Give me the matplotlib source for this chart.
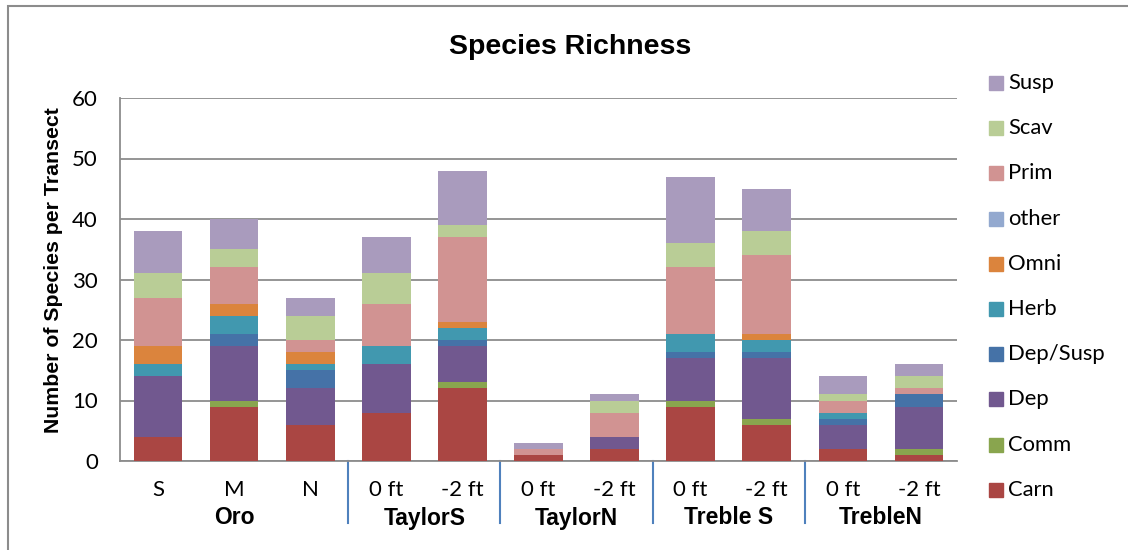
import numpy as np
import matplotlib
matplotlib.use("Agg")
import matplotlib.pyplot as plt
from matplotlib.patches import Rectangle

# transects, grouped by site
sites = ["Oro", "TaylorS", "TaylorN", "Treble S", "TrebleN"]
transects = [["S", "M", "N"], ["0 ft", "-2 ft"], ["0 ft", "-2 ft"],
             ["0 ft", "-2 ft"], ["0 ft", "-2 ft"]]

# species counts per feeding guild (stacked bottom -> top)
guilds = ["Carn", "Comm", "Dep", "Dep/Susp", "Herb", "Omni", "other", "Prim", "Scav", "Susp"]
carn = [4, 9, 6, 8, 12, 1, 2, 9, 6, 2, 1]
comm = [0, 1, 0, 0, 1, 0, 0, 1, 1, 0, 1]
dep = [10, 9, 6, 8, 6, 0, 2, 7, 10, 4, 7]
dep_susp = [0, 2, 3, 0, 1, 0, 0, 1, 1, 1, 2]
herb = [2, 3, 1, 3, 2, 0, 0, 3, 2, 1, 0]
omni = [3, 2, 2, 0, 1, 0, 0, 0, 1, 0, 0]
other = [0, 0, 0, 0, 0, 0, 0, 0, 0, 0, 0]
prim = [8, 6, 2, 7, 14, 1, 4, 11, 13, 2, 1]
scav = [4, 3, 4, 5, 2, 0, 2, 4, 4, 1, 2]
susp = [7, 5, 3, 6, 9, 1, 1, 11, 7, 3, 2]
series = [carn, comm, dep, dep_susp, herb, omni, other, prim, scav, susp]

colors = ["#AA4643", "#89A54E", "#71588F", "#4572A7", "#4198AF",
          "#DB843D", "#93A9CF", "#D19392", "#B9CD96", "#A99BBD"]

W, H = 1128, 550
fig = plt.figure(figsize=(W / 100, H / 100), dpi=100)
ax = fig.add_axes([120 / W, 1 - 461 / H, (957 - 120) / W, (461 - 98) / H])

labels = [t for grp in transects for t in grp]
x = np.arange(len(labels))
bottom = np.zeros(len(labels))
for vals, c in zip(series, colors):
    ax.bar(x, vals, 0.64, bottom=bottom, color=c, linewidth=0, zorder=3)
    bottom += np.array(vals)

ax.set_xlim(-0.5, len(labels) - 0.5)
ax.set_ylim(0, 60)
ax.set_yticks(range(0, 61, 10))
ax.yaxis.grid(True, color="#8c8c8c", linewidth=1.3, zorder=0)
ax.tick_params(axis="y", length=0, pad=16, labelsize=16, labelfontfamily="Lato")
ax.tick_params(axis="x", length=0)
ax.set_xticks(x)
ax.set_xticklabels([])
for s in ["top", "right"]:
    ax.spines[s].set_visible(False)
for s in ["left", "bottom"]:
    ax.spines[s].set_color("#8c8c8c")
    ax.spines[s].set_linewidth(1.3)

# transect labels, site labels and separators below the axis
px = 60 / 363  # one pixel in data units (vertical)
for i, lab in enumerate(labels):
    ax.text(i, -29 * px, lab, ha="center", va="center", fontsize=16,
            family="Lato", clip_on=False)
start = 0
for k, (site, grp) in enumerate(zip(sites, transects)):
    mid = start + (len(grp) - 1) / 2
    ax.text(mid, -57 * px, site, ha="center", va="center", fontsize=16.5,
            fontweight="bold", family="Liberation Sans", clip_on=False)
    start += len(grp)
    if k < len(sites) - 1:
        ax.plot([start - 0.5, start - 0.5], [0, -62 * px], color="#4F81BD",
                linewidth=1.5, clip_on=False)

fig.text(570 / W, 1 - 47 / H, "Species Richness", ha="center", va="center",
         fontsize=20.5, fontweight="bold", family="Liberation Sans")
ax.set_ylabel("Number of Species per Transect", fontsize=15.3, fontweight="bold",
              family="Liberation Sans")
ax.yaxis.set_label_coords((63 - 120) / (957 - 120), (461 - 270) / 363)

# legend, top entry = top of the stack
for i, (g, c) in enumerate(zip(guilds[::-1], colors[::-1])):
    yc = 83 + i * 45.2
    fig.patches.append(Rectangle((989 / W, 1 - (yc + 7) / H), 14 / W, 14 / H,
                                 transform=fig.transFigure, color=c))
    fig.text(1008 / W, 1 - yc / H, g, va="center", ha="left", fontsize=15.8,
             family="Lato")

# chart border
fig.patches.append(Rectangle((8 / W, -0.05), 1.1, 1 - 6 / H + 0.05,
                             transform=fig.transFigure, fill=False,
                             edgecolor="#8c8c8c", linewidth=1.5))

fig.savefig("out.png", dpi=100)
